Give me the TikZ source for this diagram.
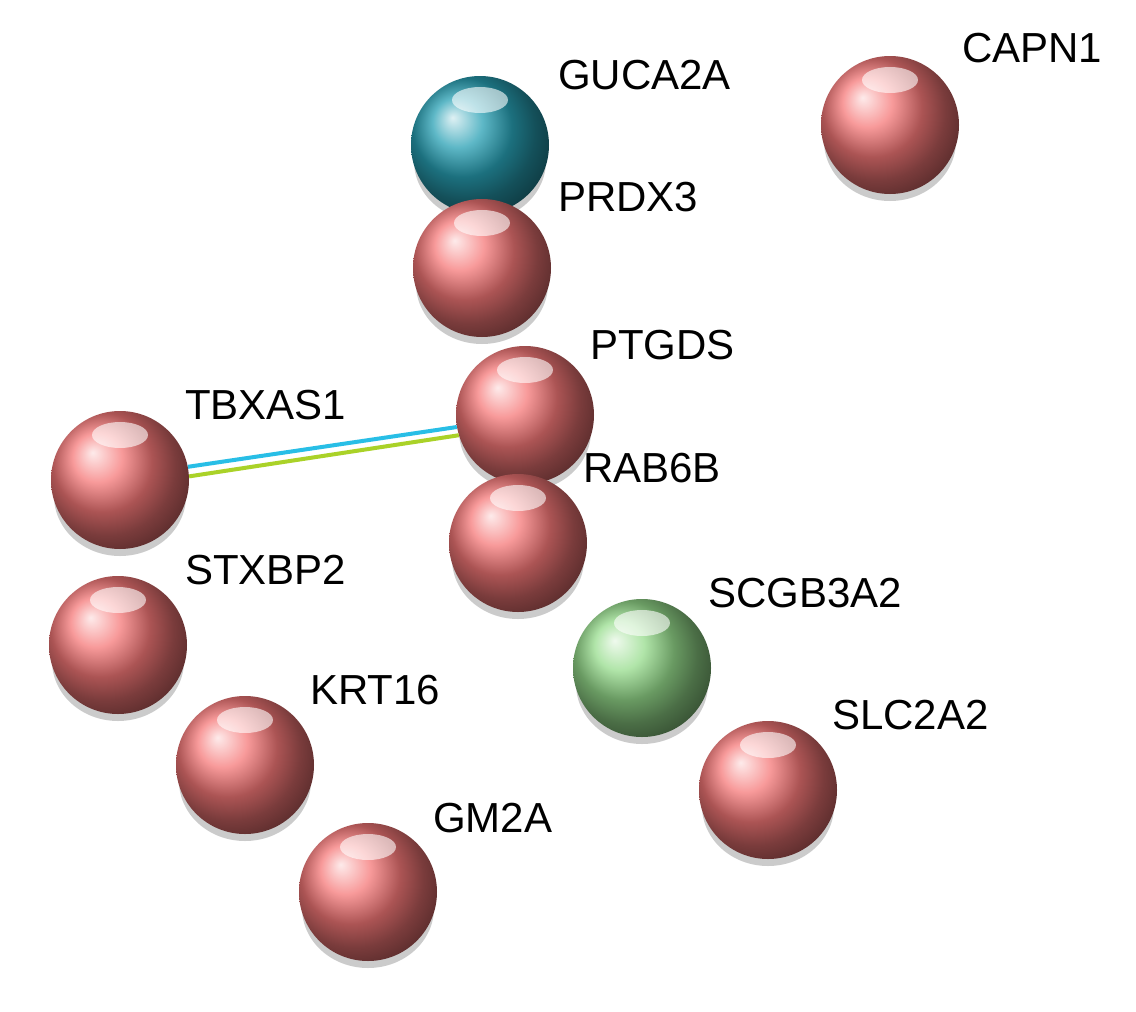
\documentclass[tikz,border=0pt]{standalone}
\usepackage{fontspec}
\setmainfont{Liberation Sans}
\usetikzlibrary{shadings}
\definecolor{redball}{RGB}{245,120,120}
\definecolor{tealball}{RGB}{40,160,180}
\definecolor{greenball}{RGB}{150,220,140}
\definecolor{edgecyan}{RGB}{40,190,230}
\definecolor{edgegreen}{RGB}{170,210,40}
\tikzset{
  sphere/.style={circle,minimum size=138pt,inner sep=0pt,shading=ball,ball color=#1},
  lab/.style={anchor=west,font=\fontsize{42}{46}\selectfont,inner sep=0pt},
}
\newcommand{\protball}[4]{%
  \fill[black!40,opacity=0.5] (#2,#3+16) ellipse (66pt and 60pt);
  \node[sphere=#4] (#1) at (#2,#3) {};
  \fill[white,opacity=0.6] (#2,#3-45) ellipse (28pt and 13pt);
}
\begin{document}
\begin{tikzpicture}[x=1pt,y=-1pt]
\useasboundingbox (0,0) rectangle (1136,1012);
\fill[white] (0,0) rectangle (1136,1012);
\protball{guca}{480}{145}{tealball}
\protball{capn}{890}{125}{redball}
\protball{prdx}{482}{268}{redball}
\protball{ptgds}{525}{415}{redball}
\protball{tbx}{120}{480}{redball}
\protball{rab}{518}{543}{redball}
\protball{stx}{118}{645}{redball}
\protball{scgb}{642}{668}{greenball}
\protball{krt}{245}{765}{redball}
\protball{slc}{768}{790}{redball}
\protball{gm}{368}{892}{redball}
\draw[edgecyan,line width=4pt] (tbx.11) -- (ptgds.190);
\draw[edgegreen,line width=4pt] (tbx.3) -- (ptgds.197);
\node[lab] at (558,75) {GUCA2A};
\node[lab] at (962,48) {CAPN1};
\node[lab] at (558,197) {PRDX3};
\node[lab] at (590,345) {PTGDS};
\node[lab] at (185,405) {TBXAS1};
\node[lab] at (583,468) {RAB6B};
\node[lab] at (185,570) {STXBP2};
\node[lab] at (708,593) {SCGB3A2};
\node[lab] at (310,690) {KRT16};
\node[lab] at (832,715) {SLC2A2};
\node[lab] at (433,818) {GM2A};
\end{tikzpicture}
\end{document}
